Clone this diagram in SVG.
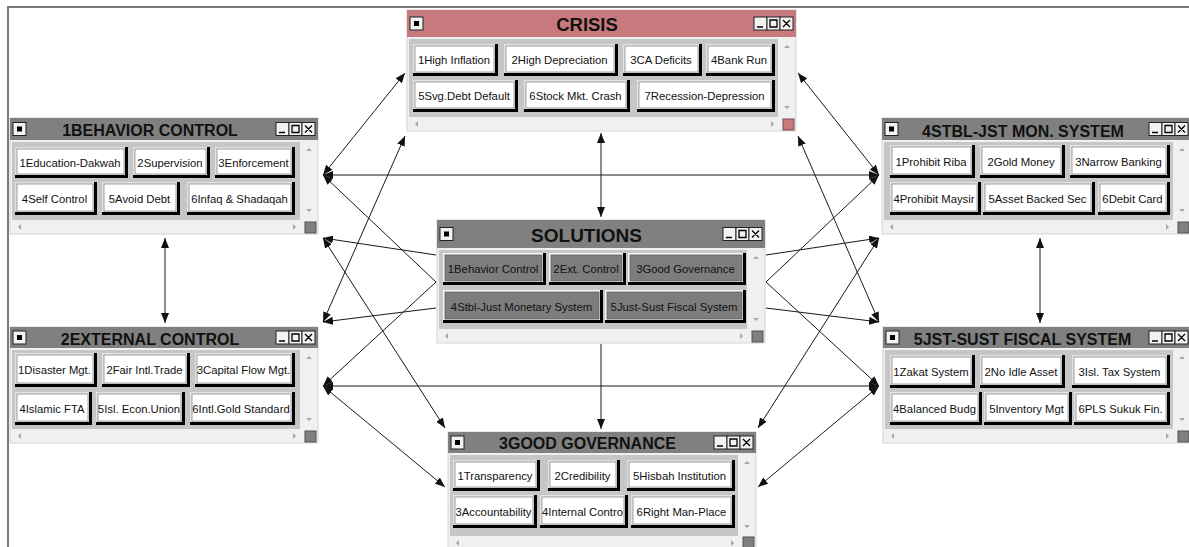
<svg xmlns="http://www.w3.org/2000/svg" width="1189" height="547" viewBox="0 0 1189 547">
<style>
.win{fill:#f0f0f0;stroke:#d4d4d4;stroke-width:1}
.tb{fill:#808080}
.tbc{fill:#c8797e}
.tt{font-family:"Liberation Sans",Arial,sans-serif;font-weight:bold;fill:#111;text-anchor:middle}
.pn{fill:#c6c6c6}
.ib{fill:#f2f2f2;stroke:#222;stroke-width:1}
.ik{fill:#000}
.gl{stroke:#000;stroke-width:1.3;fill:none}
.sa{fill:#a8a8a8}
.cr{fill:#808080;stroke:#505050;stroke-width:1}
.crc{fill:#c8797e;stroke:#7a4a4d;stroke-width:1}
.sh{fill:#000}
.bv{fill:#e2e2e2}
.fc{fill:#fff;stroke:#8a8a8a;stroke-width:.8}
.bvg{fill:#f6f6f6}
.fcg{fill:#7d7d7d;stroke:#5e5e5e;stroke-width:.8}
.bt{font-family:"Liberation Sans",Arial,sans-serif;font-size:11.3px;fill:#111;text-anchor:middle}
.cn line{stroke:#1a1a1a;stroke-width:1}
.d{marker-start:url(#ah);marker-end:url(#ah)}
.s{marker-end:url(#ah)}
</style>
<defs>
<marker id="ah" markerUnits="userSpaceOnUse" markerWidth="11" markerHeight="8" refX="10" refY="4" orient="auto-start-reverse" viewBox="0 0 11 8">
<path d="M0,0 L10,4 L0,8 z" fill="#111"/>
</marker>
</defs>
<rect width="1189" height="547" fill="#fff"/>
<path d="M8,547 V7 H1189" fill="none" stroke="#7a7a7a" stroke-width="2"/>

<g id="crisis">
<rect class="win" x="407" y="10" width="389" height="121"/>
<rect class="tbc" x="407" y="10" width="389" height="27"/>
<rect class="ib" x="410" y="17" width="13" height="13"/><rect class="ik" x="414" y="21" width="5" height="5"/>
<rect class="ib" x="754" y="17" width="13" height="13"/><rect class="ib" x="767" y="17" width="13" height="13"/><rect class="ib" x="780" y="17" width="13" height="13"/>
<path class="gl" d="M757,27 H763 M770,20 h7 v7 h-7 z M783,20 L790,27 M790,20 L783,27"/>
<text class="tt" x="587" y="31" font-size="18.5px">CRISIS</text>
<rect class="pn" x="409" y="39" width="369" height="78"/>
<polygon class="sa" points="784,48 790,48 787,45"/><polygon class="sa" points="784,106 790,106 787,109"/>
<polygon class="sa" points="418,121 418,127 415,124"/><polygon class="sa" points="771,121 771,127 774,124"/>
<rect class="crc" x="783" y="119" width="11" height="11"/>
<rect class="sh" x="413" y="44" width="85" height="32"/><rect class="bv" x="413" y="44" width="82" height="29"/><rect class="fc" x="415" y="46" width="79" height="26"/><text class="bt" x="454" y="64">1High Inflation</text>
<rect class="sh" x="504" y="44" width="114" height="32"/><rect class="bv" x="504" y="44" width="111" height="29"/><rect class="fc" x="506" y="46" width="108" height="26"/><text class="bt" x="559.5" y="64">2High Depreciation</text>
<rect class="sh" x="623" y="44" width="79" height="32"/><rect class="bv" x="623" y="44" width="76" height="29"/><rect class="fc" x="625" y="46" width="73" height="26"/><text class="bt" x="661" y="64">3CA Deficits</text>
<rect class="sh" x="706" y="44" width="69" height="32"/><rect class="bv" x="706" y="44" width="66" height="29"/><rect class="fc" x="708" y="46" width="63" height="26"/><text class="bt" x="739" y="64">4Bank Run</text>
<rect class="sh" x="413" y="80" width="105" height="32"/><rect class="bv" x="413" y="80" width="102" height="29"/><rect class="fc" x="415" y="82" width="99" height="26"/><text class="bt" x="464" y="100">5Svg.Debt Default</text>
<rect class="sh" x="524" y="80" width="106" height="32"/><rect class="bv" x="524" y="80" width="103" height="29"/><rect class="fc" x="526" y="82" width="100" height="26"/><text class="bt" x="575.5" y="100">6Stock Mkt. Crash</text>
<rect class="sh" x="637" y="80" width="138" height="32"/><rect class="bv" x="637" y="80" width="135" height="29"/><rect class="fc" x="639" y="82" width="132" height="26"/><text class="bt" x="704.5" y="100">7Recession-Depression</text>
</g>

<g id="behavior">
<rect class="win" x="10" y="118" width="308" height="116"/>
<rect class="tb" x="10" y="118" width="308" height="22"/>
<rect class="ib" x="13" y="122.5" width="13" height="13"/><rect class="ik" x="17" y="126.5" width="5" height="5"/>
<rect class="ib" x="276" y="122.5" width="13" height="13"/><rect class="ib" x="289" y="122.5" width="13" height="13"/><rect class="ib" x="302" y="122.5" width="13" height="13"/>
<path class="gl" d="M279,132.5 H285 M292,125.5 h7 v7 h-7 z M305,125.5 L312,132.5 M312,125.5 L305,132.5"/>
<text class="tt" x="150" y="136" font-size="16px">1BEHAVIOR CONTROL</text>
<rect class="pn" x="12" y="142" width="288" height="78"/>
<polygon class="sa" points="306,151 312,151 309,148"/><polygon class="sa" points="306,209 312,209 309,212"/>
<polygon class="sa" points="21,224 21,230 18,227"/><polygon class="sa" points="293,224 293,230 296,227"/>
<rect class="cr" x="305" y="222" width="11" height="11"/>
<rect class="sh" x="15" y="147" width="113" height="31"/><rect class="bv" x="15" y="147" width="110" height="28"/><rect class="fc" x="17" y="149" width="107" height="25"/><text class="bt" x="70" y="166.5">1Education-Dakwah</text>
<rect class="sh" x="133" y="147" width="77" height="31"/><rect class="bv" x="133" y="147" width="74" height="28"/><rect class="fc" x="135" y="149" width="71" height="25"/><text class="bt" x="170" y="166.5">2Supervision</text>
<rect class="sh" x="215" y="147" width="80" height="31"/><rect class="bv" x="215" y="147" width="77" height="28"/><rect class="fc" x="217" y="149" width="74" height="25"/><text class="bt" x="253.5" y="166.5">3Enforcement</text>
<rect class="sh" x="15" y="182" width="82" height="33"/><rect class="bv" x="15" y="182" width="79" height="30"/><rect class="fc" x="17" y="184" width="76" height="27"/><text class="bt" x="54.5" y="202.5">4Self Control</text>
<rect class="sh" x="102" y="182" width="78" height="33"/><rect class="bv" x="102" y="182" width="75" height="30"/><rect class="fc" x="104" y="184" width="72" height="27"/><text class="bt" x="139.5" y="202.5">5Avoid Debt</text>
<rect class="sh" x="187" y="182" width="108" height="33"/><rect class="bv" x="187" y="182" width="105" height="30"/><rect class="fc" x="189" y="184" width="102" height="27"/><text class="bt" x="239.5" y="202.5">6Infaq &amp; Shadaqah</text>
</g>

<g id="monetary">
<rect class="win" x="882" y="118" width="309" height="116"/>
<rect class="tb" x="882" y="118" width="309" height="22"/>
<rect class="ib" x="885" y="122.5" width="13" height="13"/><rect class="ik" x="889" y="126.5" width="5" height="5"/>
<rect class="ib" x="1149" y="122.5" width="13" height="13"/><rect class="ib" x="1162" y="122.5" width="13" height="13"/><rect class="ib" x="1175" y="122.5" width="13" height="13"/>
<path class="gl" d="M1152,132.5 H1158 M1165,125.5 h7 v7 h-7 z M1178,125.5 L1185,132.5 M1185,125.5 L1178,132.5"/>
<text class="tt" x="1023" y="137" font-size="16px">4STBL-JST MON. SYSTEM</text>
<rect class="pn" x="884" y="142" width="289" height="78"/>
<polygon class="sa" points="1179,151 1185,151 1182,148"/><polygon class="sa" points="1179,209 1185,209 1182,212"/>
<polygon class="sa" points="893,224 893,230 890,227"/><polygon class="sa" points="1166,224 1166,230 1169,227"/>
<rect class="cr" x="1178" y="222" width="11" height="11"/>
<rect class="sh" x="890" y="145" width="85" height="33"/><rect class="bv" x="890" y="145" width="82" height="30"/><rect class="fc" x="892" y="147" width="79" height="27"/><text class="bt" x="931" y="165.5">1Prohibit Riba</text>
<rect class="sh" x="980" y="145" width="85" height="33"/><rect class="bv" x="980" y="145" width="82" height="30"/><rect class="fc" x="982" y="147" width="79" height="27"/><text class="bt" x="1021" y="165.5">2Gold Money</text>
<rect class="sh" x="1070" y="145" width="100" height="33"/><rect class="bv" x="1070" y="145" width="97" height="30"/><rect class="fc" x="1072" y="147" width="94" height="27"/><text class="bt" x="1118.5" y="165.5">3Narrow Banking</text>
<rect class="sh" x="890" y="182" width="91" height="33"/><rect class="bv" x="890" y="182" width="88" height="30"/><rect class="fc" x="892" y="184" width="85" height="27"/><text class="bt" x="934" y="202.5">4Prohibit Maysir</text>
<rect class="sh" x="983" y="182" width="112" height="33"/><rect class="bv" x="983" y="182" width="109" height="30"/><rect class="fc" x="985" y="184" width="106" height="27"/><text class="bt" x="1037.5" y="202.5">5Asset Backed Sec</text>
<rect class="sh" x="1098" y="182" width="72" height="33"/><rect class="bv" x="1098" y="182" width="69" height="30"/><rect class="fc" x="1100" y="184" width="66" height="27"/><text class="bt" x="1132.5" y="202.5">6Debit Card</text>
</g>

<g id="external">
<rect class="win" x="10" y="327" width="308" height="116"/>
<rect class="tb" x="10" y="327" width="308" height="21"/>
<rect class="ib" x="13" y="331" width="13" height="13"/><rect class="ik" x="17" y="335" width="5" height="5"/>
<rect class="ib" x="276" y="331" width="13" height="13"/><rect class="ib" x="289" y="331" width="13" height="13"/><rect class="ib" x="302" y="331" width="13" height="13"/>
<path class="gl" d="M279,341 H285 M292,334 h7 v7 h-7 z M305,334 L312,341 M312,334 L305,341"/>
<text class="tt" x="150" y="345" font-size="16px">2EXTERNAL CONTROL</text>
<rect class="pn" x="12" y="350" width="288" height="79"/>
<polygon class="sa" points="306,359 312,359 309,356"/><polygon class="sa" points="306,418 312,418 309,421"/>
<polygon class="sa" points="21,433 21,439 18,436"/><polygon class="sa" points="293,433 293,439 296,436"/>
<rect class="cr" x="305" y="431" width="11" height="11"/>
<rect class="sh" x="15" y="353" width="82" height="34"/><rect class="bv" x="15" y="353" width="79" height="31"/><rect class="fc" x="17" y="355" width="76" height="28"/><text class="bt" x="54.5" y="374">1Disaster Mgt.</text>
<rect class="sh" x="102" y="353" width="88" height="34"/><rect class="bv" x="102" y="353" width="85" height="31"/><rect class="fc" x="104" y="355" width="82" height="28"/><text class="bt" x="144.5" y="374">2Fair Intl.Trade</text>
<rect class="sh" x="195" y="353" width="100" height="34"/><rect class="bv" x="195" y="353" width="97" height="31"/><rect class="fc" x="197" y="355" width="94" height="28"/><text class="bt" x="243.5" y="374">3Capital Flow Mgt.</text>
<rect class="sh" x="15" y="392" width="77" height="33"/><rect class="bv" x="15" y="392" width="74" height="30"/><rect class="fc" x="17" y="394" width="71" height="27"/><text class="bt" x="52" y="412.5">4Islamic FTA</text>
<rect class="sh" x="96" y="392" width="89" height="33"/><rect class="bv" x="96" y="392" width="86" height="30"/><rect class="fc" x="98" y="394" width="83" height="27"/><text class="bt" x="139" y="412.5">5Isl. Econ.Union</text>
<rect class="sh" x="190" y="392" width="105" height="33"/><rect class="bv" x="190" y="392" width="102" height="30"/><rect class="fc" x="192" y="394" width="99" height="27"/><text class="bt" x="241" y="412.5">6Intl.Gold Standard</text>
</g>

<g id="fiscal">
<rect class="win" x="883" y="327" width="308" height="116"/>
<rect class="tb" x="883" y="327" width="308" height="21"/>
<rect class="ib" x="886" y="331" width="13" height="13"/><rect class="ik" x="890" y="335" width="5" height="5"/>
<rect class="ib" x="1149" y="331" width="13" height="13"/><rect class="ib" x="1162" y="331" width="13" height="13"/><rect class="ib" x="1175" y="331" width="13" height="13"/>
<path class="gl" d="M1152,341 H1158 M1165,334 h7 v7 h-7 z M1178,334 L1185,341 M1185,334 L1178,341"/>
<text class="tt" x="1022.5" y="345" font-size="16px">5JST-SUST FISCAL SYSTEM</text>
<rect class="pn" x="885" y="350" width="288" height="79"/>
<polygon class="sa" points="1179,359 1185,359 1182,356"/><polygon class="sa" points="1179,418 1185,418 1182,421"/>
<polygon class="sa" points="894,433 894,439 891,436"/><polygon class="sa" points="1166,433 1166,439 1169,436"/>
<rect class="cr" x="1178" y="431" width="11" height="11"/>
<rect class="sh" x="890" y="355" width="85" height="33"/><rect class="bv" x="890" y="355" width="82" height="30"/><rect class="fc" x="892" y="357" width="79" height="27"/><text class="bt" x="931" y="375.5">1Zakat System</text>
<rect class="sh" x="980" y="355" width="85" height="33"/><rect class="bv" x="980" y="355" width="82" height="30"/><rect class="fc" x="982" y="357" width="79" height="27"/><text class="bt" x="1021" y="375.5">2No Idle Asset</text>
<rect class="sh" x="1072" y="355" width="98" height="33"/><rect class="bv" x="1072" y="355" width="95" height="30"/><rect class="fc" x="1074" y="357" width="92" height="27"/><text class="bt" x="1119.5" y="375.5">3Isl. Tax System</text>
<rect class="sh" x="890" y="392" width="92" height="33"/><rect class="bv" x="890" y="392" width="89" height="30"/><rect class="fc" x="892" y="394" width="86" height="27"/><text class="bt" x="934.5" y="412.5">4Balanced Budg</text>
<rect class="sh" x="984" y="392" width="88" height="33"/><rect class="bv" x="984" y="392" width="85" height="30"/><rect class="fc" x="986" y="394" width="82" height="27"/><text class="bt" x="1026.5" y="412.5">5Inventory Mgt</text>
<rect class="sh" x="1074" y="392" width="96" height="33"/><rect class="bv" x="1074" y="392" width="93" height="30"/><rect class="fc" x="1076" y="394" width="90" height="27"/><text class="bt" x="1120.5" y="412.5">6PLS Sukuk Fin.</text>
</g>

<g id="solutions">
<rect class="win" x="437" y="220" width="328" height="123"/>
<rect class="tb" x="437" y="220" width="328" height="28"/>
<rect class="ib" x="440" y="227.5" width="13" height="13"/><rect class="ik" x="444" y="231.5" width="5" height="5"/>
<rect class="ib" x="723" y="227.5" width="13" height="13"/><rect class="ib" x="736" y="227.5" width="13" height="13"/><rect class="ib" x="749" y="227.5" width="13" height="13"/>
<path class="gl" d="M726,237.5 H732 M739,230.5 h7 v7 h-7 z M752,230.5 L759,237.5 M759,230.5 L752,237.5"/>
<text class="tt" x="586.5" y="242" font-size="19px">SOLUTIONS</text>
<rect class="pn" x="439" y="250" width="308" height="79"/>
<polygon class="sa" points="753,259 759,259 756,256"/><polygon class="sa" points="753,318 759,318 756,321"/>
<polygon class="sa" points="448,333 448,339 445,336"/><polygon class="sa" points="740,333 740,339 743,336"/>
<rect class="cr" x="752" y="331" width="11" height="11"/>
<rect class="sh" x="443" y="253" width="103" height="32"/><rect class="bvg" x="443" y="253" width="100" height="29"/><rect class="fcg" x="445" y="255" width="97" height="26"/><text class="bt" x="493" y="273">1Behavior Control</text>
<rect class="sh" x="549" y="253" width="77" height="32"/><rect class="bvg" x="549" y="253" width="74" height="29"/><rect class="fcg" x="551" y="255" width="71" height="26"/><text class="bt" x="586" y="273">2Ext. Control</text>
<rect class="sh" x="628" y="253" width="118" height="32"/><rect class="bvg" x="628" y="253" width="115" height="29"/><rect class="fcg" x="630" y="255" width="112" height="26"/><text class="bt" x="685.5" y="273">3Good Governance</text>
<rect class="sh" x="443" y="290" width="160" height="33"/><rect class="bvg" x="443" y="290" width="157" height="30"/><rect class="fcg" x="445" y="292" width="154" height="27"/><text class="bt" x="521.5" y="310.5">4Stbl-Just Monetary System</text>
<rect class="sh" x="605" y="290" width="141" height="33"/><rect class="bvg" x="605" y="290" width="138" height="30"/><rect class="fcg" x="607" y="292" width="135" height="27"/><text class="bt" x="674" y="310.5">5Just-Sust Fiscal System</text>
</g>

<g id="governance">
<rect class="win" x="448" y="432" width="308" height="118"/>
<rect class="tb" x="448" y="432" width="308" height="21"/>
<rect class="ib" x="451" y="436" width="13" height="13"/><rect class="ik" x="455" y="440" width="5" height="5"/>
<rect class="ib" x="714" y="436" width="13" height="13"/><rect class="ib" x="727" y="436" width="13" height="13"/><rect class="ib" x="740" y="436" width="13" height="13"/>
<path class="gl" d="M717,446 H723 M730,439 h7 v7 h-7 z M743,439 L750,446 M750,439 L743,446"/>
<text class="tt" x="587.5" y="449" font-size="16px">3GOOD GOVERNANCE</text>
<rect class="pn" x="450" y="455" width="288" height="81"/>
<polygon class="sa" points="744,464 750,464 747,461"/><polygon class="sa" points="744,525 750,525 747,528"/>
<polygon class="sa" points="459,540 459,546 456,543"/><polygon class="sa" points="731,540 731,546 734,543"/>
<rect class="cr" x="743" y="537" width="11" height="11"/>
<rect class="sh" x="453" y="460" width="87" height="31"/><rect class="bv" x="453" y="460" width="84" height="28"/><rect class="fc" x="455" y="462" width="81" height="25"/><text class="bt" x="495" y="479.5">1Transparency</text>
<rect class="sh" x="548" y="460" width="72" height="31"/><rect class="bv" x="548" y="460" width="69" height="28"/><rect class="fc" x="550" y="462" width="66" height="25"/><text class="bt" x="582.5" y="479.5">2Credibility</text>
<rect class="sh" x="627" y="460" width="108" height="31"/><rect class="bv" x="627" y="460" width="105" height="28"/><rect class="fc" x="629" y="462" width="102" height="25"/><text class="bt" x="679.5" y="479.5">5Hisbah Institution</text>
<rect class="sh" x="453" y="495" width="84" height="33"/><rect class="bv" x="453" y="495" width="81" height="30"/><rect class="fc" x="455" y="497" width="78" height="27"/><text class="bt" x="493.5" y="515.5">3Accountability</text>
<rect class="sh" x="540" y="495" width="88" height="33"/><rect class="bv" x="540" y="495" width="85" height="30"/><rect class="fc" x="542" y="497" width="82" height="27"/><text class="bt" x="582.5" y="515.5">4Internal Contro</text>
<rect class="sh" x="631" y="495" width="104" height="33"/><rect class="bv" x="631" y="495" width="101" height="30"/><rect class="fc" x="633" y="497" width="98" height="27"/><text class="bt" x="681.5" y="515.5">6Right Man-Place</text>
</g>

<g id="connectors" class="cn">
<line class="d" x1="601" y1="133" x2="601" y2="217"/>
<line class="d" x1="165" y1="238" x2="165" y2="323"/>
<line class="d" x1="1040" y1="238" x2="1040" y2="323"/>
<line class="d" x1="323" y1="175" x2="879" y2="175"/>
<line class="d" x1="323" y1="386" x2="879" y2="386"/>
<line class="d" x1="405" y1="73" x2="323" y2="175"/>
<line class="d" x1="798" y1="73" x2="879" y2="175"/>
<line class="d" x1="405" y1="136" x2="323" y2="322"/>
<line class="d" x1="798" y1="136" x2="879" y2="322"/>
<line class="d" x1="323" y1="238" x2="445" y2="428"/>
<line class="d" x1="879" y1="238" x2="758" y2="428"/>
<line class="d" x1="323" y1="386" x2="445" y2="487"/>
<line class="d" x1="879" y1="386" x2="758" y2="487"/>
<line class="s" x1="601" y1="344" x2="601" y2="429"/>
<line class="s" x1="436" y1="255" x2="323" y2="238"/>
<line class="s" x1="436" y1="282" x2="323" y2="175"/>
<line class="s" x1="436" y1="282" x2="323" y2="386"/>
<line class="s" x1="436" y1="308" x2="323" y2="322"/>
<line class="s" x1="766" y1="255" x2="879" y2="238"/>
<line class="s" x1="766" y1="282" x2="879" y2="175"/>
<line class="s" x1="766" y1="282" x2="879" y2="386"/>
<line class="s" x1="766" y1="308" x2="879" y2="322"/>
</g>
</svg>
